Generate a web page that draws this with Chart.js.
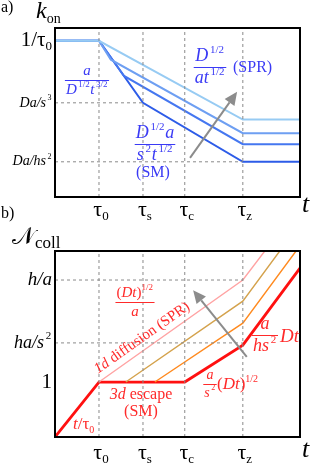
<!DOCTYPE html>
<html>
<head>
<meta charset="utf-8">
<script src="https://cdn.jsdelivr.net/npm/chart.js@4.4.1/dist/chart.umd.min.js"></script>
<style>
    html, body { margin: 0; padding: 0; background: #fff; }
    #wrapA { position: absolute; left: 0; top: 0; width: 314px; height: 222px; }
    #wrapB { position: absolute; left: 0; top: 222px; width: 314px; height: 242px; }
</style>
</head>
<body>
<div id="wrapA"><canvas id="konChart"></canvas></div>
<div id="wrapB"><canvas id="collChart"></canvas></div>
<script>
// schematic log-log axes, time in log units (tau0 = 1)
var tMax = 5.57;
var timeTicks = [1, 2, 2.95, 4.27];
var timeSubs = ['0', 's', 'c', 'z'];

// a) k_on
var konMax = 3.84;
var konLevels = [3.55, 2.14, 0.80];          // 1/tau0, Da/s^3, Da/hs^2
var konGuideEnd = [null, 2, 4.27];             // dashed guide stops at tau_s / tau_z
var konLightX = [0, 1, 4.27, 5.57];
var konLightY = [3.55, 3.55, 1.76, 1.76];
var kon2X = [0, 1, 1.27, 4.27, 5.57];
var kon2Y = [3.55, 3.55, 3.12, 1.45, 1.45];
var kon3X = [0, 1, 1.57, 4.27, 5.57];
var kon3Y = [3.55, 3.55, 2.75, 1.20, 1.20];
var kon4X = [0, 1, 2, 4.27, 5.57];
var kon4Y = [3.55, 3.55, 2.14, 0.80, 0.80];
var konArrow = [[3.07, 0.89], [4.14, 2.39]];

// b) N_coll
var collMax = 4.23;
var collLevels = [3.57, 2.14, 1.25];         // h/a, ha/s^2, 1
var collGuideEnd = [4.27, 4.27, null];
var redX = [0, 1, 2.95, 4.27, 5.57];
var redY = [0, 1.25, 1.25, 2.09, 3.84];
var orangeX = [2.27, 4.27, 5.48];
var orangeY = [1.25, 2.59, 4.23];
var tanX = [1.61, 4.27, 5.11];
var tanY = [1.25, 3.09, 4.23];
var pinkX = [1, 4.27, 4.77];
var pinkY = [1.25, 3.57, 4.23];
var collArrow = [[4.36, 1.82], [3.14, 3.34]];

var SERIF = '"Liberation Serif", "DejaVu Serif", serif';
var BLUE = '#3a3af5';
var RED = '#ff2a2a';
var GUIDE = '#8a8a8a';

function pts(xs, ys) {
    return xs.map(function (x, i) { return {x: x, y: ys[i]}; });
}

function series(xs, ys, color, width, dash) {
    return {
        data: pts(xs, ys),
        showLine: true,
        borderColor: color,
        borderWidth: width,
        borderDash: dash || [],
        pointRadius: 0,
        fill: false,
        tension: 0
    };
}

function guides(levels, ends, yMax) {
    var out = [];
    timeTicks.forEach(function (t) {
        out.push(series([t, t], [0, yMax], GUIDE, 1, [3, 3]));
    });
    levels.forEach(function (l, i) {
        if (ends[i] !== null) out.push(series([0, ends[i]], [l, l], GUIDE, 1, [3, 3]));
    });
    return out;
}

// --- rich text: segs = [[text, kind]], kind r/i base, sr/si superscript, br/bi subscript
function fontOf(kind, size) {
    return (kind.indexOf('i') >= 0 ? 'italic ' : '') + size + 'px ' + SERIF;
}
function layout(ctx, segs, size) {
    var items = [], w = 0, prevItalic = false;
    segs.forEach(function (s) {
        var k = s[1];
        var small = k[0] === 's' || k[0] === 'b';
        var f = fontOf(k, small ? Math.round(size * 0.6) : size);
        // italic correction before a superscript
        if (k[0] === 's' && prevItalic) w += size * 0.1;
        ctx.font = f;
        var tw = ctx.measureText(s[0]).width;
        var dy = k[0] === 's' ? -size * 0.36 : (k[0] === 'b' ? size * 0.3 : 0);
        items.push({t: s[0], f: f, x: w, dy: dy});
        w += tw;
        if (k[0] === 's') w += size * 0.04;
        prevItalic = k === 'i';
    });
    return {items: items, w: w};
}
function rich(ctx, segs, x, y, size, color, align) {
    var L = layout(ctx, segs, size);
    var x0 = align === 'right' ? x - L.w : (align === 'center' ? x - L.w / 2 : x);
    ctx.fillStyle = color;
    ctx.textBaseline = 'middle';
    ctx.textAlign = 'left';
    L.items.forEach(function (it) {
        ctx.font = it.f;
        ctx.fillText(it.t, x0 + it.x, y + it.dy);
    });
    return L.w;
}
function frac(ctx, num, den, cx, cy, size, color) {
    var w = Math.max(layout(ctx, num, size).w, layout(ctx, den, size).w) + 2;
    rich(ctx, num, cx, cy - size * 0.6, size, color, 'center');
    rich(ctx, den, cx, cy + size * 0.64, size, color, 'center');
    ctx.strokeStyle = color;
    ctx.lineWidth = 1;
    ctx.beginPath();
    ctx.moveTo(cx - w / 2, cy + 0.5);
    ctx.lineTo(cx + w / 2, cy + 0.5);
    ctx.stroke();
}
function arrow(chart, a) {
    var sx = chart.scales.x, sy = chart.scales.y, ctx = chart.ctx;
    var x1 = sx.getPixelForValue(a[0][0]), y1 = sy.getPixelForValue(a[0][1]);
    var x2 = sx.getPixelForValue(a[1][0]), y2 = sy.getPixelForValue(a[1][1]);
    var ang = Math.atan2(y2 - y1, x2 - x1), hl = 13, hw = 6;
    var bx = x2 - hl * Math.cos(ang), by = y2 - hl * Math.sin(ang);
    ctx.save();
    ctx.strokeStyle = '#8c8c8c';
    ctx.fillStyle = '#8c8c8c';
    ctx.lineWidth = 2;
    ctx.beginPath();
    ctx.moveTo(x1, y1);
    ctx.lineTo(bx, by);
    ctx.stroke();
    ctx.beginPath();
    ctx.moveTo(x2, y2);
    ctx.lineTo(bx + hw * Math.sin(ang), by - hw * Math.cos(ang));
    ctx.lineTo(bx - hw * Math.sin(ang), by + hw * Math.cos(ang));
    ctx.closePath();
    ctx.fill();
    ctx.restore();
}
function timeLabels(chart, y) {
    var ctx = chart.ctx;
    timeTicks.forEach(function (t, i) {
        var x = chart.scales.x.getPixelForValue(t);
        rich(ctx, [['τ', 'r'], [timeSubs[i], 'br']], x + 2, y, 22, '#000', 'center');
    });
}

// frame round the plot + all the labels
function framePlugin(draw) {
    return {
        id: 'frame',
        afterDatasetsDraw: function (chart) {
            var a = chart.chartArea, ctx = chart.ctx;
            ctx.save();
            ctx.strokeStyle = '#000';
            ctx.lineWidth = 2;
            ctx.strokeRect(a.left, a.top, a.right - a.left, a.bottom - a.top);
            ctx.restore();
        },
        afterDraw: function (chart) {
            chart.ctx.save();
            draw(chart);
            chart.ctx.restore();
        }
    };
}

function baseOptions(yMax, pad) {
    return {
        responsive: true,
        maintainAspectRatio: false,
        animation: false,
        layout: {padding: pad},
        plugins: {legend: {display: false}, tooltip: {enabled: false}},
        scales: {
            x: {type: 'linear', display: false, min: 0, max: tMax},
            y: {type: 'linear', display: false, min: 0, max: yMax}
        }
    };
}

// a) k_on
var konTickLabels = [
    [['1/τ', 'r'], ['0', 'br']],
    [['Da/s', 'i'], ['3', 'sr']],
    [['Da/hs', 'i'], ['2', 'sr']]
];
var konTickSize = [21, 14, 14];

new Chart(document.getElementById('konChart'), {
    type: 'scatter',
    data: {
        datasets: guides(konLevels, konGuideEnd, konMax).concat([
            series(konLightX, konLightY, '#97cbf3', 2),
            series(kon2X, kon2Y, '#6e9ff2', 2),
            series(kon3X, kon3Y, '#4577f0', 2),
            series(kon4X, kon4Y, '#2d5ce8', 2)
        ])
    },
    options: baseOptions(konMax, {left: 55, top: 28, right: 14, bottom: 25}),
    plugins: [framePlugin(function (chart) {
        var ctx = chart.ctx, sy = chart.scales.y;
        rich(ctx, [['a)', 'r']], 1, 8, 16, '#000', 'left');
        rich(ctx, [['b)', 'r']], 1, 214, 16, '#000', 'left');
        rich(ctx, [['k', 'i'], ['on', 'br']], 36, 12, 24, '#000', 'left');
        konTickLabels.forEach(function (segs, i) {
            rich(ctx, segs, 52, sy.getPixelForValue(konLevels[i]), konTickSize[i], '#000', 'right');
        });
        timeLabels(chart, 210);
        rich(ctx, [['t', 'i']], 302, 205, 26, '#000', 'left');

        frac(ctx, [['a', 'i']], [['D', 'i'], ['1/2', 'sr'], ['t', 'i'], ['3/2', 'sr']], 87, 80, 15, BLUE);
        frac(ctx, [['D', 'i'], ['1/2', 'sr']], [['at', 'i'], ['1/2', 'sr']], 210, 67, 18, BLUE);
        rich(ctx, [['(SPR)', 'r']], 233, 68, 16, BLUE, 'left');
        frac(ctx, [['D', 'i'], ['1/2', 'sr'], ['a', 'i']], [['s', 'i'], ['2', 'sr'], ['t', 'i'], ['1/2', 'sr']], 155, 144, 18, BLUE);
        rich(ctx, [['(SM)', 'r']], 153, 173, 16, BLUE, 'center');
        arrow(chart, konArrow);
    })]
});

// b) N_coll
var collTickLabels = [
    [['h/a', 'i']],
    [['ha/s', 'i'], ['2', 'sr']],
    [['1', 'r']]
];
var collTickSize = [19, 18, 21];

new Chart(document.getElementById('collChart'), {
    type: 'scatter',
    data: {
        datasets: guides(collLevels, collGuideEnd, collMax).concat([
            series(pinkX, pinkY, '#ffa3a3', 1.4),
            series(tanX, tanY, '#d4a24c', 1.4),
            series(orangeX, orangeY, '#ff8a1f', 1.4),
            series(redX, redY, '#ff1010', 2.8)
        ])
    },
    options: baseOptions(collMax, {left: 55, top: 29, right: 14, bottom: 27}),
    plugins: [framePlugin(function (chart) {
        var ctx = chart.ctx, sy = chart.scales.y;
        var w = rich(ctx, [['𝒩', 'r']], 12, 16, 24, '#000', 'left');
        rich(ctx, [['coll', 'r']], 12 + w, 22, 17, '#000', 'left');
        collTickLabels.forEach(function (segs, i) {
            rich(ctx, segs, 52, sy.getPixelForValue(collLevels[i]), collTickSize[i], '#000', 'right');
        });
        timeLabels(chart, 231);
        rich(ctx, [['t', 'i']], 302, 228, 26, '#000', 'left');

        frac(ctx, [['(', 'r'], ['Dt', 'i'], [')', 'r'], ['1/2', 'sr']], [['a', 'i']], 135, 80, 15, RED);
        ctx.save();
        ctx.translate(142, 116);
        ctx.rotate(-Math.atan2(67, 95));
        rich(ctx, [['1d', 'i'], [' diffusion (SPR)', 'r']], 0, 0, 15, RED, 'center');
        ctx.restore();
        rich(ctx, [['3d', 'i'], [' escape', 'r']], 141, 173, 16, RED, 'center');
        rich(ctx, [['(SM)', 'r']], 141, 190, 16, RED, 'center');
        rich(ctx, [['t', 'i'], ['/τ', 'r'], ['0', 'br']], 73, 203, 17, RED, 'left');
        frac(ctx, [['a', 'i']], [['s', 'i'], ['2', 'sr']], 210, 162, 14, RED);
        rich(ctx, [['(', 'r'], ['Dt', 'i'], [')', 'r'], ['1/2', 'sr']], 217, 163, 17, RED, 'left');
        frac(ctx, [['a', 'i']], [['hs', 'i'], ['2', 'sr']], 265, 113, 18, RED);
        rich(ctx, [['Dt', 'i']], 280, 115, 19, RED, 'left');
        arrow(chart, collArrow);
    })]
});
</script>
</body>
</html>
